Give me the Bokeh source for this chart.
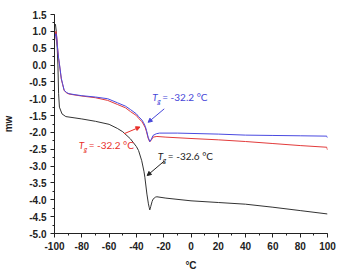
from bokeh.plotting import figure
from bokeh.models import Range1d, Arrow, NormalHead, FixedTicker
from bokeh.core.properties import value
from bokeh.embed import file_html
from bokeh.resources import INLINE

black_x = [-100, -99.3, -98.7, -98, -97.5, -97, -96.4, -94.5, -91.7, -85, -80, -70, -60, -54, -50,
           -44.4, -40, -38.4, -36.1, -34.5, -33.8, -32.3, -31.2, -30.6, -30.2, -29.5, -28.5,
           -27.8, -26, -25, -18.4, 0, 20, 40, 60, 80, 100]
black_y = [1.15, 1.21, 1.0, 0.5, 0.0, -0.85, -1.25, -1.45, -1.53, -1.57, -1.60, -1.67, -1.76, -1.88, -1.98,
           -2.19, -2.42, -2.54, -2.84, -3.15, -3.33, -3.83, -4.12, -4.23, -4.30, -4.20, -4.05,
           -3.98, -3.92, -3.91, -3.95, -4.03, -4.08, -4.13, -4.22, -4.32, -4.42]

blue_x = [-100, -99.5, -99, -98.5, -98, -97, -96.4, -95, -94.1, -92.9, -91, -89.4, -85, -80, -70, -61,
          -53.9, -48, -44.4, -40, -38.4, -36, -34.9, -33.5, -32.6, -31.4, -30.2, -29, -27.8, -25.5,
          -23.1, -10, 0, 20, 40, 60, 80, 99.5, 100]
blue_y = [0.75, 0.85, 0.93, 0.85, 0.6, 0.2, 0.04, -0.4, -0.55, -0.75, -0.82, -0.85, -0.88, -0.91, -0.95, -1.0,
          -1.12, -1.22, -1.32, -1.45, -1.53, -1.63, -1.70, -1.82, -1.94, -2.14, -2.27, -2.20, -2.09, -2.04,
          -2.02, -2.02, -2.03, -2.05, -2.08, -2.09, -2.10, -2.11, -2.16]

red_x = [-100, -99.5, -99, -98.5, -98, -97, -96.4, -95, -94.1, -92.9, -91, -89.4, -85, -80, -70, -61,
         -53.9, -48, -44.4, -40, -38.4, -36, -34.9, -33.5, -32.6, -31.4, -30.2, -29, -27.8, -25,
         -18.4, 0, 20, 40, 60, 80, 99.5, 100]
red_y = [0.70, 0.88, 1.0, 0.9, 0.62, 0.2, 0.02, -0.42, -0.57, -0.76, -0.83, -0.86, -0.89, -0.92, -0.97, -1.05,
         -1.17, -1.27, -1.38, -1.50, -1.58, -1.68, -1.75, -1.86, -1.98, -2.17, -2.28, -2.22, -2.14, -2.12,
         -2.14, -2.18, -2.22, -2.27, -2.33, -2.39, -2.44, -2.52]

x_ticks = [-100, -80, -60, -40, -20, 0, 20, 40, 60, 80, 100]
y_ticks = [1.5, 1.0, 0.5, 0.0, -0.5, -1.0, -1.5, -2.0, -2.5, -3.0, -3.5, -4.0, -4.5, -5.0]

ann_x = [-28.4, -82.3, -24.3]
ann_y = [-0.954, -2.37, -2.70]
ann_txt = ["= -32.2 °C", "= -32.2 °C", "= -32.6 °C"]
ann_col = ["#4646d8", "#e8302a", "#222222"]
arr_x0 = [-19.6, -49.1, -19.6]
arr_y0 = [-1.30, -2.04, -2.85]
arr_x1 = [-31.4, -37.4, -32.1]
arr_y1 = [-1.70, -1.84, -3.28]

p = figure(width=337, height=279, output_backend="svg", toolbar_location=None,
           x_range=Range1d(-100, 100), y_range=Range1d(-5.0, 1.5),
           min_border_left=45, min_border_right=10, min_border_top=14, min_border_bottom=46)
p.outline_line_color = None
p.xgrid.visible = False
p.ygrid.visible = False
p.background_fill_color = "white"

p.line(black_x, black_y, line_color="#333333", line_width=1)
p.line(red_x, red_y, line_color="#e23b3b", line_width=1)
p.line(blue_x, blue_y, line_color="#4a4ae0", line_width=1)

for i in range(3):
    c = ann_col[i]
    p.text([ann_x[i]], [ann_y[i]], text=["T"], text_color=c, text_font=value("Lato"),
           text_font_size="10px", text_font_style="italic", text_baseline="middle", text_align="left")
    p.text([ann_x[i]], [ann_y[i]], text=["g"], text_color=c, text_font=value("Lato"),
           text_font_size="7px", text_font_style="italic", text_baseline="middle", text_align="left",
           x_offset=5, y_offset=4)
    p.text([ann_x[i]], [ann_y[i]], text=[ann_txt[i]], text_color=c, text_font=value("Lato"),
           text_font_size="10px", text_baseline="middle", text_align="left", x_offset=10)
    p.add_layout(Arrow(end=NormalHead(size=4, fill_color=c, line_color=c),
                       x_start=arr_x0[i], y_start=arr_y0[i], x_end=arr_x1[i], y_end=arr_y1[i],
                       line_color=c, line_width=1))

for ax in (p.xaxis[0], p.yaxis[0]):
    ax.axis_line_color = "#222222"
    ax.major_tick_line_color = "#222222"
    ax.minor_tick_line_color = "#222222"
    ax.major_tick_out = 4
    ax.major_tick_in = 0
    ax.minor_tick_out = 2
    ax.minor_tick_in = 0
    ax.major_label_text_font = "Liberation Sans"
    ax.major_label_text_font_style = "bold"
    ax.major_label_text_font_size = "10px"
    ax.major_label_text_color = "#222222"
    ax.axis_label_text_font = "Liberation Sans"
    ax.axis_label_text_font_style = "bold"
    ax.axis_label_text_font_size = "10px"
    ax.axis_label_text_color = "#222222"

p.xaxis.ticker = FixedTicker(ticks=x_ticks, minor_ticks=list(range(-100, 101, 10)))
p.yaxis.ticker = FixedTicker(ticks=y_ticks, minor_ticks=[v / 4 for v in range(-20, 7)])
p.xaxis.major_label_overrides = {t: str(t) for t in x_ticks}
p.yaxis.major_label_overrides = {t: f"{t:.1f}" for t in y_ticks}
p.xaxis.axis_label = "°C"
p.yaxis.axis_label = "mw"
p.xaxis.major_label_standoff = 4
p.yaxis.major_label_standoff = 4
p.xaxis.axis_label_standoff = 7
p.yaxis.axis_label_standoff = 12

open("out.html", "w").write(file_html(p, INLINE))
